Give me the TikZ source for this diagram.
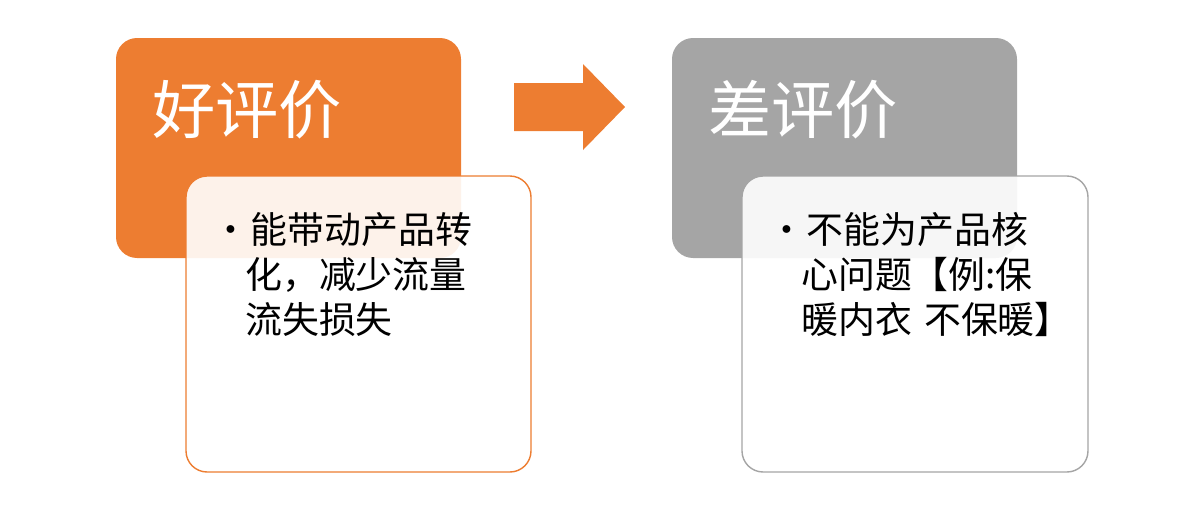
\documentclass[tikz,border=0pt]{standalone}
\usepackage{fontspec}
\setmainfont{Noto Sans CJK SC}
\usetikzlibrary{positioning}
\definecolor{goodorange}{HTML}{ED7D31}
\definecolor{badgray}{HTML}{A5A5A5}
\begin{document}
\begin{tikzpicture}[x=0.02cm,y=-0.02cm,
        headbox/.style={rounded corners=12pt},
        notebox/.style={rounded corners=12pt, fill=white, fill opacity=0.9, line width=0.8pt},
        headtext/.style={text=white, font=\fontsize{36}{40}\selectfont, anchor=west, inner sep=0pt},
        notetext/.style={font=\fontsize{21}{25.6}\selectfont, anchor=north west, align=left, inner sep=0pt, text width=8cm}
    ]
        \useasboundingbox (0,0) rectangle (1180,522);

        % left pair
        \fill[headbox, goodorange] (116,38) rectangle (461,258);
        \node[headtext] (goodhead) at (152,110) {好评价};
        \draw[notebox, draw=goodorange] (186,176) rectangle (531,472);
        \node[notetext] (goodnote) at (212,212) {•\hspace{1pt}能带动产品转\\\hspace{18.7pt}化，减少流量\\\hspace{18.7pt}流失损失};

        % arrow
        \fill[goodorange] (514,83) -- (583,83) -- (583,64) -- (625,107) -- (583,150) -- (583,131) -- (514,131) -- cycle;

        % right pair
        \fill[headbox, badgray] (672,38) rectangle (1017,258);
        \node[headtext] (badhead) at (708,110) {差评价};
        \draw[notebox, draw=badgray] (742,176) rectangle (1088,472);
        \node[notetext] (badnote) at (768,212) {•\hspace{1pt}不能为产品核\\\hspace{18.7pt}心问题【例:保\\\hspace{18.7pt}暖内衣 不保暖】};
    \end{tikzpicture}
\end{document}
